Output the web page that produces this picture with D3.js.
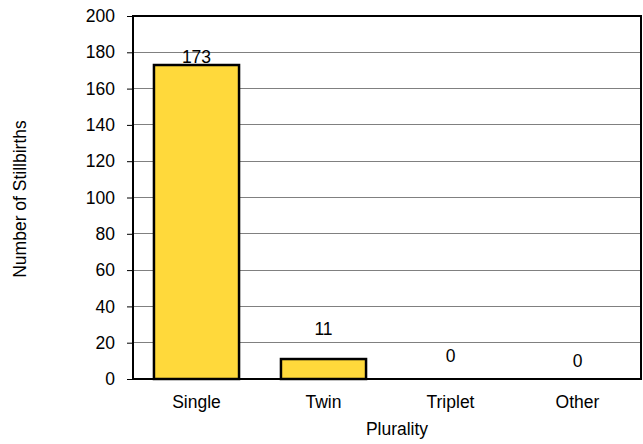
<!DOCTYPE html>
<html><head><meta charset="utf-8">
<script src="https://cdn.jsdelivr.net/npm/d3@7"></script>
<style>body{margin:0;background:#fff}text{font-family:"Liberation Sans",Arial,sans-serif;fill:#000}</style>
</head><body><svg id="c" width="643" height="444"></svg>
<script>
const categories = ["Single", "Twin", "Triplet", "Other"];
const values = [173, 11, 0, 0];
const yTicks = [0, 20, 40, 60, 80, 100, 120, 140, 160, 180, 200];
const xTitle = "Plurality";
const yTitle = "Number of Stillbirths";

const svg = d3.select("#c");
const m = {l: 133, r: 641, t: 16, b: 379};
const x = d3.scaleBand().domain(categories).range([m.l, m.r]).paddingInner(0.33).paddingOuter(0.165);
const y = d3.scaleLinear().domain([0, 200]).range([m.b, m.t]);
const fs = "17.5px";

// gridlines
svg.append("g").selectAll("line").data(yTicks.filter(d => d > 0)).join("line")
  .attr("x1", m.l).attr("x2", m.r).attr("y1", d => y(d)).attr("y2", d => y(d))
  .attr("stroke", "#808080").attr("stroke-width", 1).attr("shape-rendering", "crispEdges");

// plot border
svg.append("rect").attr("x", m.l).attr("y", m.t).attr("width", m.r - m.l).attr("height", m.b - m.t)
  .attr("fill", "none").attr("stroke", "#000").attr("stroke-width", 2);

// bars
svg.append("g").selectAll("rect").data(values).join("rect")
  .attr("x", (d, i) => x(categories[i])).attr("width", x.bandwidth())
  .attr("y", d => y(d)).attr("height", d => y(0) - y(d))
  .attr("fill", "#FFD93B").attr("stroke", "#000").attr("stroke-width", 2.5);

// y axis
const ya = svg.append("g").attr("transform", `translate(${m.l},0)`)
  .call(d3.axisLeft(y).tickValues(yTicks).tickSize(6).tickPadding(12));
ya.select(".domain").remove();
ya.selectAll("line").attr("stroke", "#000").attr("stroke-width", 1);
ya.selectAll("text").style("font-size", fs).style("font-family", '"Liberation Sans",Arial,sans-serif');

// x labels
svg.append("g").selectAll("text").data(categories).join("text")
  .attr("x", d => x(d) + x.bandwidth() / 2).attr("y", 408)
  .attr("text-anchor", "middle").style("font-size", fs).text(d => d);

// value labels
const labelGap = [2, 24, 17, 12];
svg.append("g").selectAll("text").data(values).join("text")
  .attr("x", (d, i) => x(categories[i]) + x.bandwidth() / 2)
  .attr("y", (d, i) => y(d) - labelGap[i])
  .attr("text-anchor", "middle").style("font-size", fs).text(d => d);

// titles
svg.append("text").attr("x", 397).attr("y", 435).attr("text-anchor", "middle")
  .style("font-size", fs).text(xTitle);
svg.append("text").attr("transform", "translate(26,199) rotate(-90)").attr("text-anchor", "middle")
  .style("font-size", fs).text(yTitle);
</script></body></html>
